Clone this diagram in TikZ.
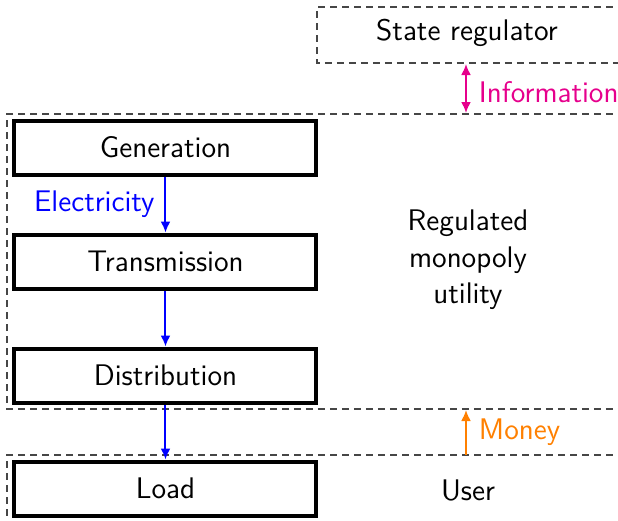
\documentclass[tikz,border=0pt]{standalone}
\usepackage{fontspec}
\usetikzlibrary{arrows.meta}
\definecolor{infocol}{RGB}{230,0,140}
\definecolor{moneycol}{RGB}{255,128,0}
\definecolor{dashcol}{RGB}{70,70,70}
\begin{document}
\begin{tikzpicture}[x=0.5pt,y=-0.5pt,
  every node/.style={font=\sffamily\fontsize{14.9}{18.25}\selectfont},
  block/.style={draw=black,line width=2pt,minimum width=151pt,minimum height=27pt,inner sep=0pt},
  area/.style={draw=dashcol,line width=0.6pt,dash pattern=on 3.5pt off 2.5pt},
  tip/.style={Latex[length=5.5pt,width=5pt]},
  flow/.style={draw=blue,line width=1pt,-{Latex[length=5.5pt,width=5pt]}},
  infoflow/.style={draw=infocol,line width=1pt,{Latex[length=5.5pt,width=5pt]}-{Latex[length=5.5pt,width=5pt]}},
  moneyflow/.style={draw=moneycol,line width=1pt,-{Latex[length=5.5pt,width=5pt]}}]
\useasboundingbox (0,0) rectangle (618,521);
% dashed areas
\draw[area] (625,7) -- (317,7) -- (317,63) -- (625,63);
\draw[area] (625,114) -- (7,114) -- (7,409) -- (625,409);
\draw[area] (625,455) -- (7,455) -- (7,530);
% blocks
\node[block] (gen) at (165.5,147.5) {Generation};
\node[block] (tra) at (165.5,261.5) {Transmission};
\node[block] (dis) at (165.5,375.5) {Distribution};
\node[block] (load) at (165.5,488.5) {Load};
% area labels
\node (reg) at (467,33) {State regulator};
\node[align=center] (util) at (468,260) {Regulated\\monopoly\\utility};
\node (user) at (468,490) {User};
% coordinates for flows
\coordinate (regb) at (466,64);
\coordinate (utilt) at (466,113);
\coordinate (utilb) at (466,410);
\coordinate (usert) at (466,455);
% flows
\draw[flow] (gen) -- node[left,text=blue,inner sep=5pt] (elec) {Electricity} (tra);
\draw[flow] (tra) -- (dis);
\draw[flow] (dis) -- (load);
\draw[infoflow] (regb) -- node[right,text=infocol,inner sep=6pt,yshift=-2pt] (info) {Information} (utilt);
\draw[moneyflow] (usert) -- node[right,text=moneycol,inner sep=6pt] (money) {Money} (utilb);
\end{tikzpicture}
\end{document}
